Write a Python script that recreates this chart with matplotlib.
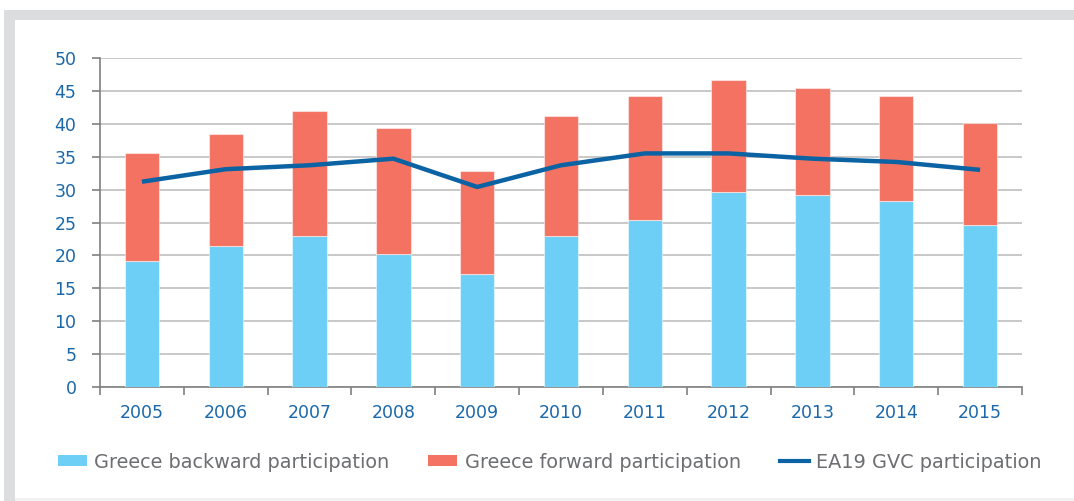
import matplotlib
matplotlib.use("Agg")
import matplotlib.pyplot as plt
from matplotlib.patches import Rectangle, Patch
from matplotlib.lines import Line2D
import numpy as np

years = ["2005", "2006", "2007", "2008", "2009", "2010", "2011", "2012", "2013", "2014", "2015"]
backward = [19.2, 21.4, 23.0, 20.2, 17.1, 23.0, 25.4, 29.7, 29.2, 28.3, 24.6]
total = [35.6, 38.5, 42.0, 39.4, 32.9, 41.2, 44.2, 46.6, 45.5, 44.2, 40.1]
forward = [t - b for t, b in zip(total, backward)]
ea19 = [31.2, 33.1, 33.7, 34.7, 30.4, 33.7, 35.5, 35.5, 34.7, 34.2, 33.0]

C_BACK = "#6ecff6"
C_FWD = "#f37262"
C_LINE = "#0b63a3"
C_TICK = "#1a68aa"
C_LEG = "#6d6e71"

W, H = 1074, 501
fig = plt.figure(figsize=(W / 100, H / 100), dpi=100)
fig.patch.set_facecolor("white")

# frame
fig.patches.append(Rectangle((4 / W, 0), 1, 1 - 10 / H, transform=fig.transFigure,
                             facecolor="#dcdddf", edgecolor="none", zorder=-10))
fig.patches.append(Rectangle((15 / W, 3 / H), 1, 1 - 23 / H, transform=fig.transFigure,
                             facecolor="white", edgecolor="none", zorder=-9))
fig.patches.append(Rectangle((15 / W, 0), 1, 3 / H, transform=fig.transFigure,
                             facecolor="#f2f2f2", edgecolor="none", zorder=-9))

ax = fig.add_axes([100 / W, (H - 387) / H, 922 / W, 329 / H])
ax.set_facecolor("none")

x = np.arange(len(years))
bw = 0.41
ax.bar(x, backward, bw, color=C_BACK, edgecolor=(1, 1, 1, 0.5), linewidth=0.8, zorder=3)
ax.bar(x, forward, bw, bottom=backward, color=C_FWD, edgecolor=(1, 1, 1, 0.5), linewidth=0.8, zorder=3)
ax.plot(x, ea19, color=C_LINE, linewidth=3.2, zorder=4, solid_capstyle="butt")

ax.set_xlim(-0.5, len(years) - 0.5)
ax.set_ylim(0, 50)
ax.set_yticks(np.arange(0, 51, 5))
ax.yaxis.grid(True, color="#c8c8c8", linewidth=1.4, zorder=0)
ax.set_axisbelow(True)

ax.set_xticks(np.arange(-0.5, len(years), 1.0))
ax.set_xticklabels([])
ax.set_xticks(x, minor=True)
ax.set_xticklabels(years, minor=True)
ax.tick_params(axis="x", which="major", length=6, width=1.2, color="#808080", direction="out")
ax.tick_params(axis="x", which="minor", length=0, pad=12, labelsize=12.5, labelcolor=C_TICK)
ax.tick_params(axis="y", length=6, width=1.2, color="#808080", pad=11, labelsize=12.5, labelcolor=C_TICK)

for s in ["top", "right"]:
    ax.spines[s].set_visible(False)
for s in ["left", "bottom"]:
    ax.spines[s].set_color("#808080")
    ax.spines[s].set_linewidth(1.2)

handles = [Patch(facecolor=C_BACK, edgecolor="none"),
           Patch(facecolor=C_FWD, edgecolor="none"),
           Line2D([0], [0], color=C_LINE, linewidth=3)]
labels = ["Greece backward participation", "Greece forward participation", "EA19 GVC participation"]
leg = fig.legend(handles, labels, loc="center left", bbox_to_anchor=(50 / W, 1 - 462 / H),
                 ncol=3, frameon=False, fontsize=13.9, handlelength=1.5, handleheight=0.5,
                 handletextpad=0.4, columnspacing=2.0, labelcolor=C_LEG, borderaxespad=0)

fig.savefig("out.png", dpi=100)
